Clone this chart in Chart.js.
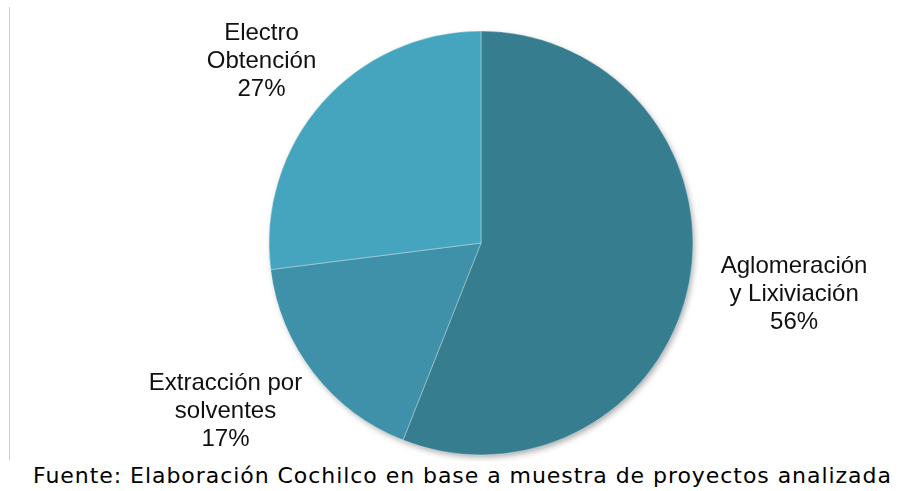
<!DOCTYPE html>
<html>
<head>
<meta charset="utf-8">
<script src="https://cdn.jsdelivr.net/npm/chart.js@4/dist/chart.umd.min.js"></script>
<style>
  body { margin: 0; background: #fff; }
  #wrap { position: relative; width: 899px; height: 491px; overflow: hidden; }
  #frame { position: absolute; left: 9px; top: 7px; width: 0; height: 453px; border-left: 1px solid #d0d0d0; }
  #pie { position: absolute; left: 0; top: 0; }
  #fuente { position: absolute; left: 33px; top: 464px; font-family: "DejaVu Sans", Verdana, sans-serif;
            font-size: 22px; letter-spacing: 0.95px; line-height: 24px; white-space: nowrap; color: #000; }
</style>
</head>
<body>
<div id="wrap">
  <div id="frame"></div>
  <canvas id="pie" width="899" height="462"></canvas>
  <div id="fuente">Fuente: Elaboración Cochilco en base a muestra de proyectos analizada</div>
</div>
<script>
// etapas del proceso y su participación (%)
var categories = [["Aglomeración", "y Lixiviación"], ["Extracción por", "solventes"], ["Electro", "Obtención"]];
var shares = [56, 17, 27];
var sliceColors = ["#367D90", "#3F91AA", "#46A5BE"];

// sombra suave bajo el círculo completo
var pieShadow = {
  id: 'pieShadow',
  beforeDatasetsDraw: function (chart) {
    var arc = chart.getDatasetMeta(0).data[0];
    if (!arc) return;
    var ctx = chart.ctx;
    ctx.save();
    ctx.shadowColor = 'rgba(0,0,0,0.35)';
    ctx.shadowBlur = 6;
    ctx.shadowOffsetX = 2;
    ctx.shadowOffsetY = 3;
    ctx.fillStyle = sliceColors[0];
    ctx.beginPath();
    ctx.arc(arc.x, arc.y, arc.outerRadius - 1, 0, Math.PI * 2);
    ctx.fill();
    ctx.restore();
  }
};

// etiquetas fuera del borde: nombre + porcentaje
var outsideLabels = {
  id: 'outsideLabels',
  afterDatasetsDraw: function (chart) {
    var ctx = chart.ctx;
    var lineH = 28;
    ctx.save();
    ctx.font = '24px "Liberation Sans", Arial, sans-serif';
    ctx.fillStyle = '#111';
    ctx.textAlign = 'center';
    ctx.textBaseline = 'middle';
    chart.getDatasetMeta(0).data.forEach(function (arc, i) {
      var lines = categories[i].concat([shares[i] + '%']);
      var w = 0;
      lines.forEach(function (t) { w = Math.max(w, ctx.measureText(t).width); });
      var h = lines.length * lineH;
      var mid = (arc.startAngle + arc.endAngle) / 2;
      var dx = Math.cos(mid), dy = Math.sin(mid);
      var r = arc.outerRadius + 4;
      var cx = arc.x + dx * r + dx * w / 2 * 1.4;
      var cy = arc.y + dy * r + dy * h / 2 * 1.4;
      lines.forEach(function (t, k) {
        ctx.fillText(t, cx, cy - h / 2 + lineH * (k + 0.5));
      });
    });
    ctx.restore();
  }
};

new Chart(document.getElementById('pie'), {
  type: 'pie',
  data: {
    labels: categories.map(function (c) { return c.join(' '); }),
    datasets: [{
      data: shares,
      backgroundColor: sliceColors,
      borderColor: 'rgba(255,255,255,0.35)',
      borderWidth: 1
    }]
  },
  options: {
    responsive: false,
    animation: false,
    radius: 212,
    layout: { padding: { left: 100, right: 37, top: 31, bottom: 7 } },
    plugins: { legend: { display: false }, tooltip: { enabled: false } }
  },
  plugins: [pieShadow, outsideLabels]
});
</script>
</body>
</html>
